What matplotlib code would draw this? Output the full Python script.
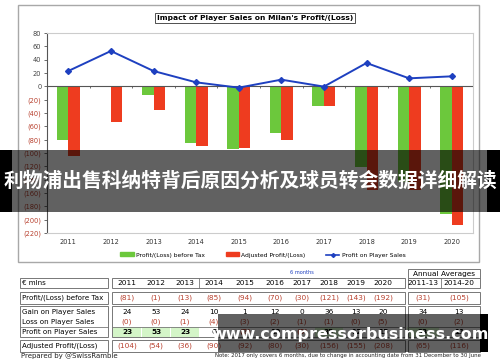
import numpy as np
import matplotlib.pyplot as plt
from matplotlib.patches import Rectangle, Patch
from matplotlib.lines import Line2D

# data (EUR m)
years = ['2011', '2012', '2013', '2014', '2015', '2016', '2017', '2018', '2019', '2020']
pbt = [-81, -1, -13, -85, -94, -70, -30, -121, -143, -192]
adjusted = [-104, -54, -36, -90, -92, -80, -30, -156, -155, -208]
player_profit = [23, 53, 23, 6, -2, 10, -0.4, 35, 12, 15]
gain = [24, 53, 24, 10, 1, 12, 0, 36, 13, 20]
loss = [-0.2, -0.3, -1, -4, -3, -2, -1, -1, -0.4, -5]

avg_labels = ['2011-13', '2014-20']
avg_pbt = [-31, -105]
avg_gain = [34, 13]
avg_loss = [-0.2, -2]
avg_profit = [33, 11]
avg_adjusted = [-65, -116]

title = "Impact of Player Sales on Milan's Profit/(Loss)"
banner = '利物浦出售科纳特背后原因分析及球员转会数据详细解读'
watermark = 'www.compressorbusiness.com'

GREEN = '#6cc83c'
RED = '#ee3c1f'
BLUE = '#1e40c0'
NEG = '#b8402e'
W, H = 500, 362


def fmt(v):
    if v < 0:
        return '({:.0f})'.format(-v)
    return '{:.0f}'.format(v)


fig = plt.figure(figsize=(W / 100, H / 100), dpi=100)
fig.patch.set_facecolor('white')

# background layer in pixel coordinates
bg = fig.add_axes([0, 0, 1, 1], zorder=0)
bg.set_xlim(0, W)
bg.set_ylim(H, 0)
bg.axis('off')

bg.add_patch(Rectangle((18, 5), 461, 257, fill=False, ec='#a8a8a8', lw=1))
bg.text(255, 18, title, ha='center', va='center', fontsize=5.4, fontweight='bold',
        bbox=dict(boxstyle='square,pad=0.25', fc='white', ec='#333333', lw=0.6))

# ---- chart
ax = fig.add_axes([47 / W, 1 - 233 / H, 426 / W, 200 / H], zorder=1)
x = np.arange(len(years))
bw = 0.27
ax.bar(x - bw / 2, pbt, bw, color=GREEN, zorder=2)
ax.bar(x + bw / 2, adjusted, bw, color=RED, zorder=2)
ax.plot(x, player_profit, color=BLUE, lw=1.4, marker='D', ms=3, zorder=4)
ax.axhline(0, color='#555555', lw=0.8, zorder=3)
ax.vlines(x[:-1] + 0.5, -3, 0, color='#555555', lw=0.6, zorder=3)

ax.set_xlim(-0.5, len(years) - 0.5)
ax.set_ylim(-220, 80)
yt = np.arange(-220, 81, 20)
ax.set_yticks(yt)
ax.set_yticklabels([fmt(v) for v in yt], fontsize=4.8)
for lab, v in zip(ax.get_yticklabels(), yt):
    lab.set_color(NEG if v < 0 else '#444444')
ax.tick_params(axis='y', length=2, width=0.6, color='#555555', pad=2)
ax.set_xticks(x)
ax.set_xticklabels(years, fontsize=4.8, color='#333333')
ax.tick_params(axis='x', length=0, pad=4)
for s in ['top', 'right', 'bottom']:
    ax.spines[s].set_color('#cccccc')
    ax.spines[s].set_linewidth(0.8)
ax.spines['left'].set_color('#555555')
ax.spines['left'].set_linewidth(0.8)

handles = [Patch(color=GREEN, label='Profit/(Loss) before Tax'),
           Patch(color=RED, label='Adjusted Profit/(Loss)'),
           Line2D([], [], color=BLUE, lw=1.2, marker='D', ms=2, label='Profit on Player Sales')]
fig.legend(handles=handles, loc='center', bbox_to_anchor=(263 / W, 1 - 255 / H), ncol=3,
           frameon=False, fontsize=4.3, handlelength=2.2, handleheight=0.6,
           columnspacing=3.5, handletextpad=0.4)

# ---- table
col_x = [127, 156, 185, 214, 245, 275, 302, 329, 356, 383]
avg_x = [423, 459]
fs = 5.3
lfs = 5.1


def box(x0, y0, x1, y1):
    bg.add_patch(Rectangle((x0, y0), x1 - x0, y1 - y0, fill=False, ec='#777777', lw=0.7))


def row_boxes(y0, y1):
    box(20, y0, 108, y1)
    box(112, y0, 405, y1)
    box(408, y0, 480, y1)


def put_row(y, vals, avals, bold=False, highlight=None):
    for i, (cx, v) in enumerate(zip(col_x, vals)):
        if highlight is not None and highlight[i]:
            bg.add_patch(Rectangle((cx - 14, y - 5), 28, 10, fc='#d4f5c8', ec='none', zorder=0))
        bg.text(cx, y, fmt(v), ha='center', va='center', fontsize=fs,
                color=NEG if v < 0 else 'black', fontweight='bold' if bold else 'normal')
    for j, (cx, v) in enumerate(zip(avg_x, avals)):
        if highlight is not None and highlight[len(vals) + j]:
            bg.add_patch(Rectangle((cx - 16, y - 5), 32, 10, fc='#d4f5c8', ec='none', zorder=0))
        bg.text(cx, y, fmt(v), ha='center', va='center', fontsize=fs,
                color=NEG if v < 0 else 'black', fontweight='bold' if bold else 'normal')


# annual averages header
box(408, 269, 480, 278)
bg.text(444, 274, 'Annual Averages', ha='center', va='center', fontsize=fs)
bg.text(302, 272, '6 months', ha='center', va='center', fontsize=3.6, color=BLUE)

# header
row_boxes(278, 288)
bg.plot([199, 199], [278, 288], color='#777777', lw=0.6)
bg.plot([441, 441], [278, 288], color='#777777', lw=0.6)
bg.text(22, 283, '€ mlns', ha='left', va='center', fontsize=lfs)
for cx, yr in zip(col_x, years):
    bg.text(cx, 283, yr, ha='center', va='center', fontsize=fs)
for cx, lb in zip(avg_x, avg_labels):
    bg.text(cx, 283, lb, ha='center', va='center', fontsize=fs)

# profit before tax
row_boxes(292, 304)
bg.text(22, 298, 'Profit/(Loss) before Tax', ha='left', va='center', fontsize=lfs)
put_row(298, pbt, avg_pbt)

# player sales block
row_boxes(306, 337)
for x0, x1 in [(20, 108), (112, 405), (408, 480)]:
    bg.plot([x0, x1], [327, 327], color='#777777', lw=0.6)
bg.text(22, 312, 'Gain on Player Sales', ha='left', va='center', fontsize=lfs)
bg.text(22, 322, 'Loss on Player Sales', ha='left', va='center', fontsize=lfs)
bg.text(22, 332, 'Profit on Player Sales', ha='left', va='center', fontsize=lfs)
put_row(312, gain, avg_gain)
put_row(322, loss, avg_loss)
hl = [v > 20 for v in player_profit + avg_profit]
put_row(332, player_profit, avg_profit, bold=True, highlight=hl)

# adjusted
row_boxes(340, 352)
bg.text(22, 346, 'Adjusted Profit/(Loss)', ha='left', va='center', fontsize=lfs)
put_row(346, adjusted, avg_adjusted)

bg.text(21, 355.5, 'Prepared by @SwissRamble', ha='left', va='center', fontsize=5.0, color='#222222')
bg.text(481, 355.5, 'Note: 2017 only covers 6 months, due to change in accounting date from 31 December to 30 June',
        ha='right', va='center', fontsize=3.9, color='#222222')

# ---- overlays
top = fig.add_axes([0, 0, 1, 1], zorder=5)
top.set_xlim(0, W)
top.set_ylim(H, 0)
top.axis('off')

top.add_patch(Rectangle((0, 150), W, 62, fc='black', alpha=0.62, ec='none'))
top.add_patch(Rectangle((0, 150), 12, 62, fc='black', ec='none'))
top.add_patch(Rectangle((487, 150), 13, 62, fc='black', ec='none'))
top.text(250, 181, banner, ha='center', va='center', color='white', fontsize=14.2,
         fontweight='bold', family=['Noto Sans CJK SC', 'DejaVu Sans'])

top.add_patch(Rectangle((218, 314), 262, 38, fc='black', alpha=0.62, ec='none'))
top.add_patch(Rectangle((480, 314), 8, 38, fc='black', ec='none'))
top.text(350, 334, watermark, ha='center', va='center', color='white', fontsize=11.5,
         fontweight='bold')

fig.savefig('out.png', dpi=100)
